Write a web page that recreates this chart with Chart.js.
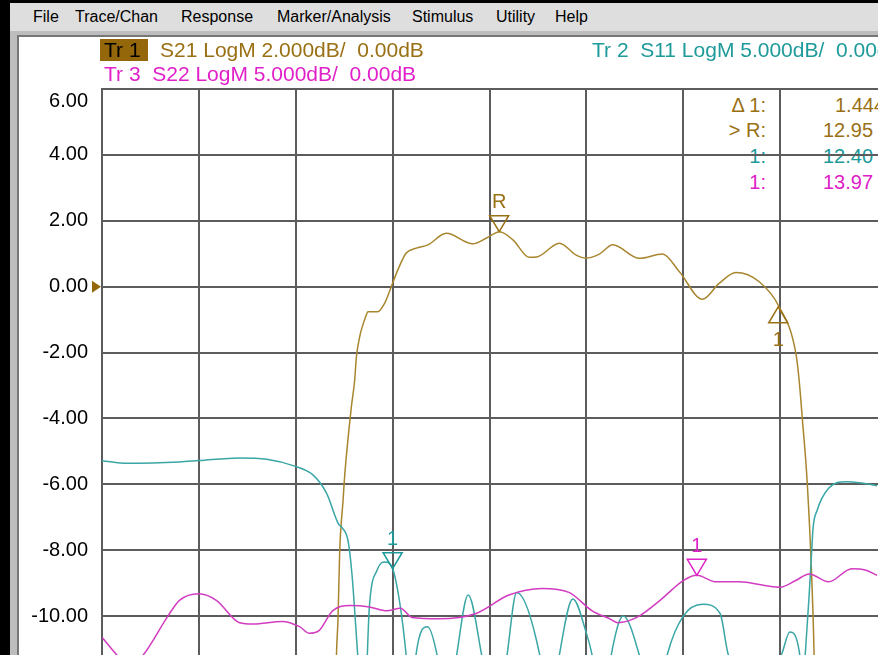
<!DOCTYPE html>
<html>
<head>
<meta charset="utf-8">
<script src="https://cdn.jsdelivr.net/npm/chart.js@4.4.0/dist/chart.umd.min.js"></script>
<style>
body { margin: 0; width: 878px; height: 655px; overflow: hidden; position: relative; background: #000; font-family: "Liberation Sans", Arial, sans-serif; }
#menu { position: absolute; left: 10px; top: 3px; width: 868px; height: 28px; background: #dedede; font-size: 16px; color: #000; }
#menu span { position: absolute; top: 5px; }
#frame { position: absolute; left: 10px; top: 31px; width: 868px; height: 624px; background: #bdbdbd; }
#inner { position: absolute; left: 17px; top: 35px; width: 861px; height: 620px; background: #fff; border-left: 2px solid #777; border-top: 2px solid #777; box-sizing: border-box; }
.txt { position: absolute; font-size: 20px; white-space: pre; line-height: 22px; }
.hdr { font-size: 21px; }
#grafico { position: absolute; left: 0; top: 0; z-index: 2; }
.over { z-index: 3; }
</style>
</head>
<body>
<div id="menu">
  <span style="left:23px">File</span>
  <span style="left:65px">Trace/Chan</span>
  <span style="left:171px">Response</span>
  <span style="left:267px">Marker/Analysis</span>
  <span style="left:402px">Stimulus</span>
  <span style="left:486px">Utility</span>
  <span style="left:545px">Help</span>
</div>
<div id="frame"></div>
<div id="inner"></div>

<!-- titulos dos traços -->
<div class="txt hdr over" style="left:100px;top:39px;width:48px;height:22px;background:#94670a;color:#000;padding-left:4px;box-sizing:border-box">Tr 1</div>
<div class="txt hdr over" style="left:160px;top:39px;color:#9a7014">S21 LogM 2.000dB/  0.00dB</div>
<div class="txt hdr over" style="left:592px;top:39px;color:#1e9a9a">Tr 2  S11 LogM 5.000dB/  0.00dB</div>
<div class="txt hdr over" style="left:104px;top:63px;color:#e020c8">Tr 3  S22 LogM 5.000dB/  0.00dB</div>

<!-- leitura dos marcadores (fica por baixo do grid, como no aparelho) -->
<div class="txt" style="left:700px;top:94px;width:66px;text-align:right;color:#9a7014">Δ 1:</div>
<div class="txt" style="left:835px;top:94px;color:#9a7014">1.444</div>
<div class="txt" style="left:700px;top:119px;width:66px;text-align:right;color:#9a7014">&gt; R:</div>
<div class="txt" style="left:823px;top:119px;color:#9a7014">12.95</div>
<div class="txt" style="left:700px;top:145px;width:66px;text-align:right;color:#1e9a9a">1:</div>
<div class="txt" style="left:823px;top:145px;color:#1e9a9a">12.40</div>
<div class="txt" style="left:700px;top:171px;width:66px;text-align:right;color:#e020c8">1:</div>
<div class="txt" style="left:823px;top:171px;color:#e020c8">13.97</div>

<canvas id="grafico" width="878" height="655"></canvas>

<script>
/* DADOS (GHz / dB) */
const gridFreqs = [10.9, 11.4, 11.9, 12.4, 12.9, 13.4, 13.9, 14.4];
const yTicks = [6, 4, 2, 0, -2, -4, -6, -8, -10];

const s21Freq = [10.90, 12.07, 12.11, 12.118, 12.127, 12.144, 12.153, 12.187, 12.204, 12.213, 12.23, 12.238, 12.264, 12.272, 12.323, 12.359, 12.393, 12.427, 12.47, 12.522, 12.582, 12.677, 12.814, 12.883, 12.952, 13.021, 13.106, 13.149, 13.261, 13.347, 13.398, 13.467, 13.536, 13.673, 13.793, 13.879, 13.999, 14.085, 14.172, 14.292, 14.395, 14.481, 14.498, 14.515, 14.532, 14.541, 14.558, 14.575, 14.60, 14.90];
const s21Db = [-40, -25, -11.2, -10.1, -8.0, -6.5, -5.7, -3.65, -2.84, -2.13, -1.52, -1.32, -0.86, -0.76, -0.76, -0.50, 0.00, 0.51, 1.02, 1.17, 1.27, 1.62, 1.30, 1.47, 1.67, 1.42, 0.89, 0.91, 1.32, 0.96, 0.87, 0.99, 1.27, 0.86, 0.99, 0.46, -0.38, 0.10, 0.43, 0.15, -0.61, -2.02, -2.84, -4.05, -5.27, -6.08, -8.10, -11.14, -20, -40];

const s11Freq = [10.90, 11.03, 11.30, 11.40, 11.61, 11.75, 11.89, 11.99, 12.06, 12.12, 12.14, 12.17, 12.19, 12.22, 12.25, 12.28, 12.32, 12.36, 12.40, 12.44, 12.47, 12.50, 12.52, 12.58, 12.63, 12.68, 12.73, 12.79, 12.86, 12.93, 12.99, 13.04, 13.16, 13.21, 13.26, 13.33, 13.40, 13.43, 13.48, 13.53, 13.59, 13.67, 13.75, 13.82, 13.90, 14.00, 14.09, 14.13, 14.27, 14.41, 14.45, 14.50, 14.51, 14.53, 14.55, 14.56, 14.57, 14.59, 14.65, 14.74, 14.82, 14.90];
const s11Db = [-13.2, -13.4, -13.3, -13.2, -13.0, -13.1, -13.6, -14.3, -15.7, -18.0, -18.3, -19.3, -21.8, -28.0, -34, -24.3, -21.5, -20.9, -21.4, -24.3, -28.0, -33, -28.0, -25.8, -28.0, -33, -28.0, -23.4, -28.0, -34, -28.0, -23.2, -28.0, -33, -28.0, -23.7, -26.3, -28.0, -33, -27.8, -25.0, -27.8, -33, -27.8, -25.0, -24.1, -24.8, -27.8, -33, -27.8, -26.2, -27.8, -31, -27.8, -23.3, -20.8, -18.3, -17.0, -15.3, -14.8, -14.9, -15.1];

const s22Freq = [10.90, 10.98, 11.04, 11.11, 11.24, 11.30, 11.40, 11.49, 11.61, 11.68, 11.83, 11.92, 11.97, 12.02, 12.09, 12.18, 12.28, 12.37, 12.44, 12.50, 12.64, 12.83, 13.00, 13.17, 13.31, 13.43, 13.52, 13.56, 13.66, 13.78, 13.90, 13.97, 14.07, 14.19, 14.33, 14.40, 14.48, 14.55, 14.65, 14.77, 14.84, 14.90];
const s22Db = [-26.6, -28.0, -28.8, -28.0, -25.0, -23.8, -23.3, -23.8, -25.5, -25.6, -25.4, -25.8, -26.3, -26.1, -24.6, -24.2, -24.3, -24.6, -24.4, -25.1, -25.2, -24.8, -23.4, -22.9, -23.2, -24.6, -25.2, -25.5, -25.1, -23.8, -22.3, -21.9, -22.4, -22.4, -22.7, -22.8, -22.3, -21.8, -22.4, -21.4, -21.5, -21.9];

/* marcadores: R e delta 1 no S21, 1 no S11, 1 no S22 */
const markerFreq = [12.95, 14.39, 12.40, 13.97];
const markerDb = [1.67, -0.61, -21.4, -21.9];
const markerLabel = ["R", "1", "1", "1"];
const markerTrace = [0, 0, 1, 2];
const markerUp = [false, true, false, false];

const cores = ["#a8862e", "#3aa6a6", "#d23cc0"];
const coresTexto = ["#9a7014", "#1e9a9a", "#e020c8"];
const FONTE = '"Liberation Sans", Arial, sans-serif';

function pontos(fs, vs) {
    return fs.map((f, i) => ({ x: f, y: vs[i] }));
}

/* PLUGIN MARCADORES */
const marcadores = {
    id: 'marcadores',
    afterDatasetsDraw(chart) {
        const ctx = chart.ctx;
        const sx = chart.scales.x;
        ctx.save();
        // triangulo do nivel de referencia
        const y0 = chart.scales.y.getPixelForValue(0);
        ctx.fillStyle = "#94670a";
        ctx.beginPath();
        ctx.moveTo(sx.left - 10, y0 - 6);
        ctx.lineTo(sx.left - 1, y0);
        ctx.lineTo(sx.left - 10, y0 + 6);
        ctx.closePath();
        ctx.fill();

        ctx.font = "20px " + FONTE;
        ctx.textAlign = "center";
        ctx.textBaseline = "middle";
        ctx.lineWidth = 1.5;
        markerFreq.forEach((f, i) => {
            const eixo = markerTrace[i] === 0 ? chart.scales.y : chart.scales.y2;
            const x = sx.getPixelForValue(f);
            const y = eixo.getPixelForValue(markerDb[i]);
            ctx.strokeStyle = coresTexto[markerTrace[i]];
            ctx.fillStyle = coresTexto[markerTrace[i]];
            ctx.beginPath();
            if (markerUp[i]) {
                ctx.moveTo(x, y);
                ctx.lineTo(x - 9.5, y + 16);
                ctx.lineTo(x + 9.5, y + 16);
            } else {
                ctx.moveTo(x, y);
                ctx.lineTo(x - 9.5, y - 16);
                ctx.lineTo(x + 9.5, y - 16);
            }
            ctx.closePath();
            ctx.stroke();
            ctx.fillText(markerLabel[i], x, markerUp[i] ? y + 34 : y - 29);
        });
        ctx.restore();
    }
};

const corGrid = "#5c5c5c";

new Chart(document.getElementById("grafico"), {
    type: 'line',
    data: {
        datasets: [{
            label: "S22",
            data: pontos(s22Freq, s22Db),
            borderColor: cores[2],
            yAxisID: 'y2'
        }, {
            label: "S11",
            data: pontos(s11Freq, s11Db),
            borderColor: cores[1],
            yAxisID: 'y2'
        }, {
            label: "S21",
            data: pontos(s21Freq, s21Db),
            borderColor: cores[0],
            yAxisID: 'y'
        }]
    },
    options: {
        responsive: false,
        animation: false,
        devicePixelRatio: 1,
        layout: { padding: { top: 89, left: 0, right: 0, bottom: 0 } },
        elements: {
            point: { radius: 0 },
            line: { borderWidth: 1.5, fill: false, cubicInterpolationMode: 'monotone' }
        },
        plugins: { legend: { display: false }, tooltip: { enabled: false } },
        scales: {
            x: {
                type: 'linear',
                min: 10.9,
                max: 14.905,
                afterBuildTicks: (s) => { s.ticks = gridFreqs.map(v => ({ value: v })); },
                afterFit: (s) => { s.height = 0; s.paddingLeft = 0; s.paddingRight = 0; },
                ticks: { display: false },
                grid: { color: corGrid, lineWidth: 2, drawTicks: false },
                border: { display: false }
            },
            y: {
                min: -11.18,
                max: 6,
                afterBuildTicks: (s) => { s.ticks = yTicks.map(v => ({ value: v })); },
                afterFit: (s) => { s.width = 102; s.paddingTop = 0; s.paddingBottom = 0; },
                ticks: {
                    color: "#000",
                    padding: 14,
                    font: { family: FONTE, size: 20 },
                    // o rotulo do topo fica um pouco abaixo da linha, como na tela
                    callback: (v) => v === yTicks[0] ? ["", Number(v).toFixed(2)] : Number(v).toFixed(2)
                },
                grid: { color: corGrid, lineWidth: 2, drawTicks: false },
                border: { color: corGrid, width: 2 }
            },
            y2: {
                display: false,
                min: -11.18 * 2.5,
                max: 15
            }
        }
    },
    plugins: [marcadores]
});
</script>
</body>
</html>
